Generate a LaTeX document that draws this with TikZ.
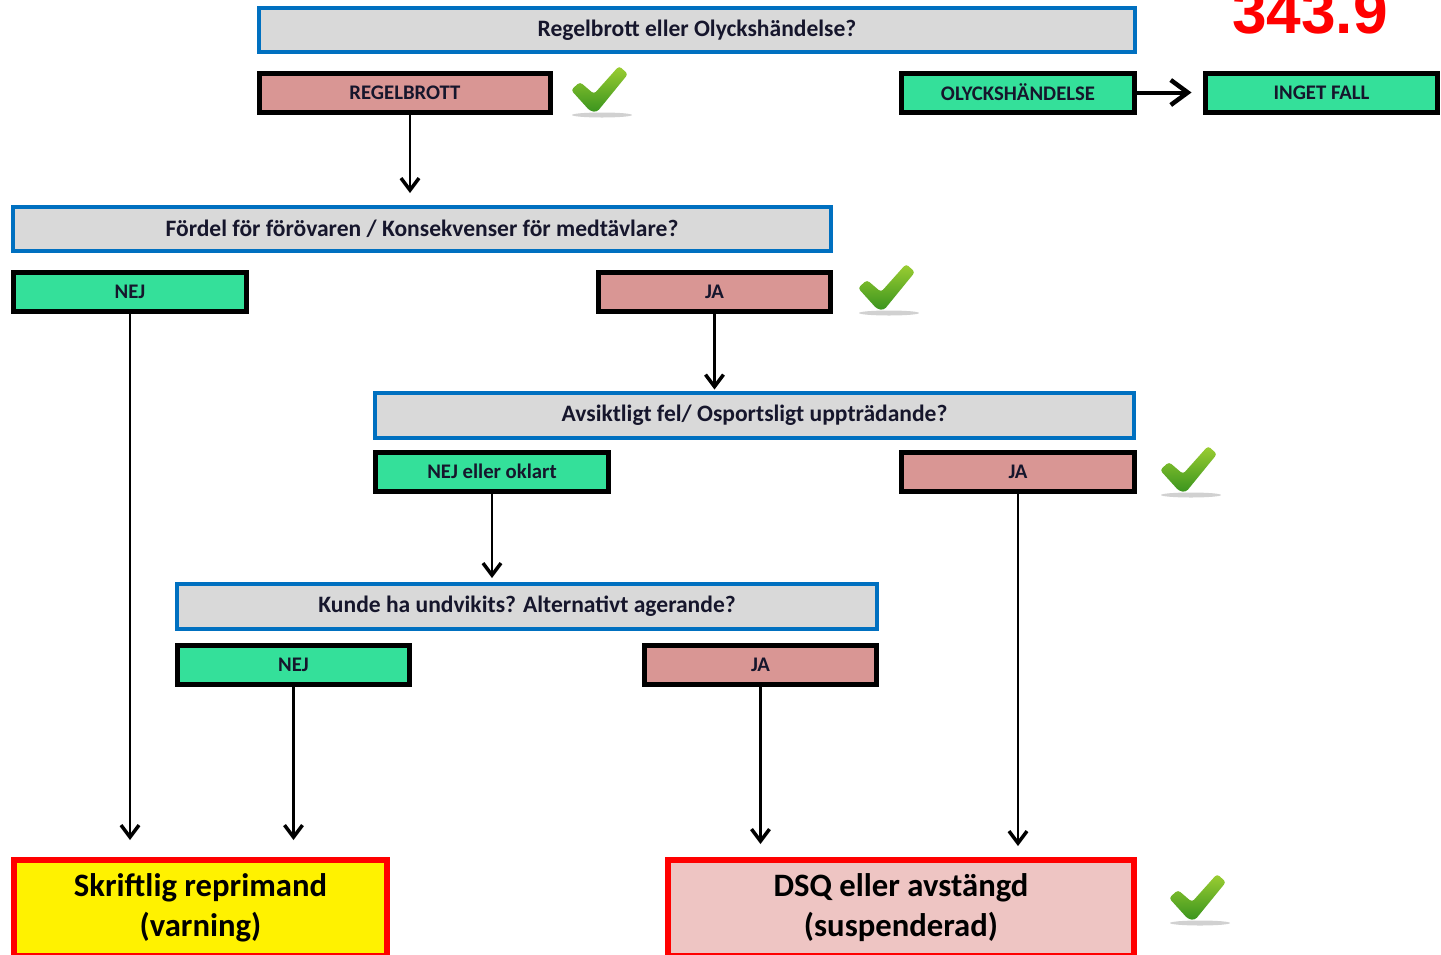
\documentclass[tikz,border=0pt]{standalone}
\usepackage{fontspec}
\setmainfont{Carlito}
\newfontfamily\numfont{Liberation Sans}
\usetikzlibrary{arrows.meta}

\definecolor{qblue}{RGB}{0,112,192}
\definecolor{qgray}{RGB}{217,217,217}
\definecolor{japink}{RGB}{217,150,148}
\definecolor{nejgreen}{RGB}{52,224,154}
\definecolor{dsqpink}{RGB}{238,197,195}
\definecolor{tickhi}{RGB}{156,206,50}
\definecolor{ticklo}{RGB}{58,148,30}
\definecolor{txt}{RGB}{22,22,44}

\tikzset{
  question/.style={draw=qblue, fill=qgray, line width=0.08cm, minimum height=0.88cm,
    inner sep=0pt, text=txt, font=\bfseries\fontsize{13.4}{15}\selectfont},
  answer/.style={draw=black, line width=0.1cm, minimum width=4.66cm, minimum height=0.78cm,
    inner sep=0pt, text=txt, font=\bfseries\fontsize{11.8}{13}\selectfont},
  jabox/.style={answer, fill=japink},
  nejbox/.style={answer, fill=nejgreen},
  verdict/.style={draw=red, line width=0.12cm, minimum height=1.92cm, inner sep=0pt,
    align=center, text=black, font=\bfseries\fontsize{18.6}{22.7}\selectfont},
  arr/.style={-{Straight Barb[length=0.24cm, width=0.36cm, line width=0.07cm]}, line width=0.05cm},
  bigarr/.style={-{Straight Barb[length=0.34cm, width=0.5cm, line width=0.09cm]}, line width=0.08cm},
  tick/.pic={
    \fill[black!30, opacity=0.6] (3,25) ellipse [x radius=0.6cm, y radius=0.05cm];
    \path[top color=tickhi, bottom color=ticklo, rounded corners=0.06cm]
      (-28,0) -- (-19,-8) -- (-5,4) -- (20,-24) -- (29,-16) -- (-2,22) -- (-9,21) -- cycle;
  }
}

\begin{document}
\begin{tikzpicture}[x=0.02cm, y=-0.02cm]
\useasboundingbox (0,0) rectangle (1441,954);
\node[red, anchor=base, font=\numfont\bfseries\fontsize{35.4}{36}\selectfont] (nr) at (1310,33) {343.9};
%
\node[question, minimum width=17.52cm] (q1) at (697,30) {Regelbrott eller Olyckshändelse?};
\node[jabox, minimum width=5.82cm] (regel) at (405,92.5) {REGELBROTT};
\pic at (599,90) {tick};
\node[nejbox] (olycks) at (1018,92.5) {OLYCKSHÄNDELSE};
\node[nejbox] (inget) at (1321.5,92.5) {INGET FALL};
%
\node[question, minimum width=16.36cm] (q2) at (422,229) {Fördel för förövaren / Konsekvenser för medtävlare?};
\node[nejbox] (nej1) at (130,291.5) {NEJ};
\node[jabox] (ja1) at (714.5,291.5) {JA};
\pic at (886,288) {tick};
%
\node[question, minimum width=15.18cm, minimum height=0.9cm] (q3) at (754.5,415.5) {Avsiktligt fel/ Osportsligt uppträdande?};
\node[nejbox] (nejokl) at (492,471.5) {NEJ eller oklart};
\node[jabox] (ja2) at (1018,471.5) {JA};
\pic at (1188,470) {tick};
%
\node[question, minimum width=14cm, minimum height=0.9cm] (q4) at (527,606.5) {Kunde ha undvikits? Alternativt agerande?};
\node[nejbox] (nej3) at (293.5,665) {NEJ};
\node[jabox] (ja3) at (760.5,665) {JA};
%
\node[verdict, fill=yellow, minimum width=7.46cm] (skrift) at (200.5,908) {Skriftlig reprimand\\(varning)};
\node[verdict, fill=dsqpink, minimum width=9.32cm] (dsq) at (901,908) {DSQ eller avstängd\\(suspenderad)};
\pic at (1197,898) {tick};
%
\draw[bigarr, shorten >=0.22cm] (olycks) -- (inget);
\draw[arr, shorten >=0.24cm] ([xshift=0.1cm]regel.south) -- ([xshift=0.1cm]regel.south |- q2.north);
\draw[arr, shorten >=0.34cm] (nej1) -- (nej1 |- skrift.north);
\draw[arr, shorten >=0.03cm] (ja1) -- (ja1 |- q3.north);
\draw[arr, shorten >=0.08cm] (nejokl) -- (nejokl |- q4.north);
\draw[arr, shorten >=0.22cm] (ja2) -- (ja2 |- dsq.north);
\draw[arr, shorten >=0.34cm] (nej3) -- (nej3 |- skrift.north);
\draw[arr, shorten >=0.26cm] (ja3) -- (ja3 |- dsq.north);
\end{tikzpicture}
\end{document}
